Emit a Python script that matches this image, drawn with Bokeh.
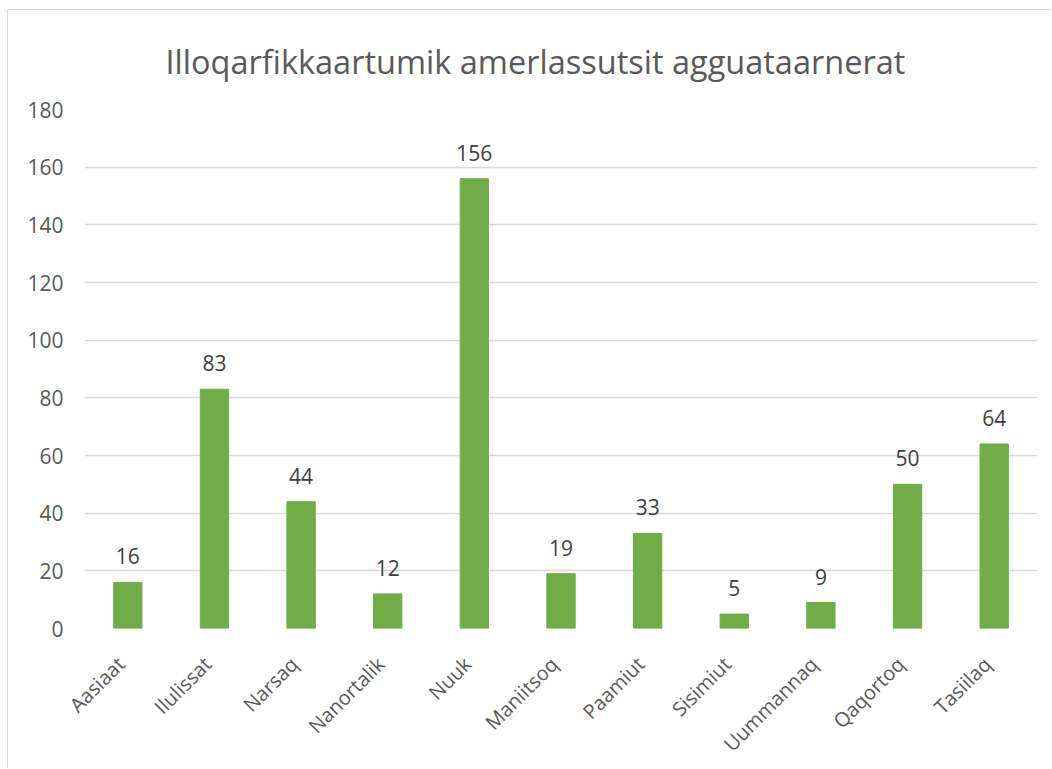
from bokeh.plotting import figure
from bokeh.models import (ColumnDataSource, Range1d, SingleIntervalTicker, LabelSet,
                          LinearAxis, FixedTicker)
from bokeh.core.properties import value
from bokeh.embed import file_html
from bokeh.resources import INLINE
import math

towns = ["Aasiaat", "Ilulissat", "Narsaq", "Nanortalik", "Nuuk", "Maniitsoq",
         "Paamiut", "Sisimiut", "Uummannaq", "Qaqortoq", "Tasiilaq"]
counts = [16, 83, 44, 12, 156, 19, 33, 5, 9, 50, 64]
title_text = "Illoqarfikkaartumik amerlassutsit agguataarnerat"

pos = [i + 0.5 for i in range(len(towns))]
src = ColumnDataSource(dict(x=pos, town=towns, count=counts, lbl=[str(c) for c in counts]))

p = figure(width=1044, height=759, output_backend="svg", toolbar_location=None,
           x_range=Range1d(0, len(towns)),
           y_range=Range1d(0, 180),
           min_border_left=76, min_border_right=15, min_border_top=99, min_border_bottom=137)

p.title.text = title_text
p.title.align = "left"
p.title.text_font = "Open Sans"
p.title.text_font_size = "32.5px"
p.title.text_font_style = "normal"
p.title.text_color = "#595959"
p.title.standoff = 52
p.title.offset = 81

p.vbar(x="x", top="count", width=0.327, source=src, color="#70AD47")

labels = LabelSet(x="x", y="count", text="lbl", source=src, text_align="center",
                  text_baseline="alphabetic", y_offset=18, text_font=value("Open Sans"),
                  text_font_size=value("21px"), text_color=value("#404040"))
p.add_layout(labels)

p.outline_line_color = None
p.background_fill_color = "white"
p.border_fill_color = "white"

p.yaxis.ticker = SingleIntervalTicker(interval=20)
p.yaxis.axis_line_color = None
p.yaxis.major_tick_line_color = None
p.yaxis.minor_tick_line_color = None
p.yaxis.major_label_text_font = "Open Sans"
p.yaxis.major_label_text_font_size = "21px"
p.yaxis.major_label_text_color = "#595959"
p.yaxis.major_label_standoff = 15

# hide the default x axis, draw category labels on a slightly shifted axis
p.xaxis.visible = False
shift = 0.08
p.extra_x_ranges = {"lab": Range1d(shift, len(towns) + shift)}
lab_axis = LinearAxis(x_range_name="lab", ticker=FixedTicker(ticks=pos),
                      major_label_overrides={t: n for t, n in zip(pos, towns)})
lab_axis.axis_line_color = None
lab_axis.major_tick_line_color = None
lab_axis.minor_tick_line_color = None
lab_axis.major_label_orientation = math.pi / 4
lab_axis.major_label_text_font = "Open Sans"
lab_axis.major_label_text_font_size = "20px"
lab_axis.major_label_text_color = "#595959"
lab_axis.major_label_standoff = 26
p.add_layout(lab_axis, "below")

p.xgrid.grid_line_color = None
p.ygrid.grid_line_color = "#d9d9d9"
p.ygrid.grid_line_width = 1.5

p.styles = {"border-top": "1px solid #d9d9d9", "border-left": "1px solid #d9d9d9",
            "margin-left": "7px", "margin-top": "9px"}

open("out.html", "w").write(file_html(p, INLINE))
